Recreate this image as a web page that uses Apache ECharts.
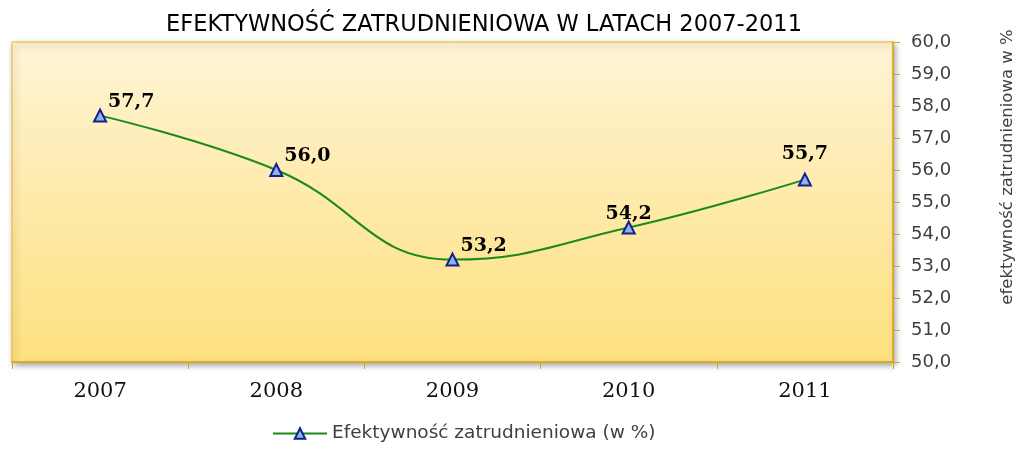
<!DOCTYPE html>
<html>
<head>
<meta charset="utf-8">
<script src="https://cdn.jsdelivr.net/npm/echarts@6/dist/echarts.min.js"></script>
<style>
html, body { margin: 0; padding: 0; background: #fff; }
#main { width: 1018px; height: 451px; }
</style>
</head>
<body>
<div id="main"></div>
<script>
const years = ['2007', '2008', '2009', '2010', '2011'];
const values = [57.7, 56.0, 53.2, 54.2, 55.7];
const labelPos = ['right', 'right', 'right', 'top', 'top'];

const fmt = (v) => v.toFixed(1).replace('.', ',');

const chart = echarts.init(document.getElementById('main'));

const option = {
  animation: false,
  backgroundColor: '#fff',
  title: {
    text: 'EFEKTYWNOŚĆ ZATRUDNIENIOWA W LATACH 2007-2011',
    left: 479,
    textAlign: 'center',
    top: 9,
    textStyle: {
      fontFamily: 'DejaVu Sans',
      fontSize: 22.5,
      fontWeight: 'normal',
      color: '#000',
    },
  },
  legend: {
    bottom: 3,
    left: 267,
    itemWidth: 54,
    itemHeight: 13,
    itemGap: 4,
    textStyle: {
      fontFamily: 'DejaVu Sans',
      fontSize: 18.5,
      color: '#404040',
    },
    data: ['Efektywność zatrudnieniowa (w %)'],
  },
  grid: {
    left: 12,
    right: 125,
    top: 42,
    bottom: 89,
    outerBoundsMode: 'none',
    show: true,
    borderColor: '#F0B020',
    borderWidth: 1,
    backgroundColor: new echarts.graphic.LinearGradient(0, 0, 0, 1, [
      { offset: 0, color: '#FFF4D6' },
      { offset: 1, color: '#FDE07E' },
    ]),
    shadowColor: 'rgba(0,0,0,0.35)',
    shadowBlur: 6,
    shadowOffsetX: 2,
    shadowOffsetY: 3,
  },
  xAxis: {
    type: 'category',
    data: years,
    boundaryGap: true,
    axisLine: { lineStyle: { color: '#D9A21A', width: 1.5 } },
    axisTick: { show: true, length: 7, lineStyle: { color: '#D9A21A' } },
    axisLabel: {
      margin: 19,
      fontFamily: 'DejaVu Serif',
      fontSize: 21,
      color: '#111',
    },
    splitLine: { show: false },
  },
  yAxis: {
    type: 'value',
    position: 'right',
    min: 50,
    max: 60,
    interval: 1,
    axisLine: { show: true, lineStyle: { color: '#D9A21A', width: 1.5 } },
    axisTick: { show: true, length: 7, lineStyle: { color: '#D9A21A' } },
    axisLabel: {
      margin: 18,
      fontFamily: 'DejaVu Sans',
      fontSize: 18,
      color: '#404040',
      formatter: (v) => fmt(v),
    },
    splitLine: { show: false },
    name: 'efektywność zatrudnieniowa w %',
    nameLocation: 'middle',
    nameGap: 106,
    nameRotate: 90,
    nameTextStyle: {
      fontFamily: 'DejaVu Sans',
      fontSize: 16.5,
      color: '#404040',
      padding: [0, 0, 0, 70],
    },
  },
  series: [
    {
      name: 'Efektywność zatrudnieniowa (w %)',
      type: 'line',
      smooth: 0.45,
      symbol: 'triangle',
      symbolSize: 12,
      itemStyle: {
        color: '#8DB4E2',
        borderColor: '#12208E',
        borderWidth: 2,
      },
      lineStyle: { color: '#1A8A1A', width: 2 },
      label: {
        show: true,
        fontFamily: 'DejaVu Serif',
        fontSize: 19,
        fontWeight: 'bold',
        color: '#000',
        formatter: (p) => fmt(p.value),
      },
      data: values.map((v, i) => {
        let label;
        if (labelPos[i] === 'right') {
          label = { position: 'right', offset: [-4, -14] };
        } else if (i === 3) {
          label = { position: 'top', offset: [0, 8] };
        } else {
          label = { position: 'top', offset: [0, -4] };
        }
        return { value: v, label: label };
      }),
    },
  ],
};

chart.setOption(option);
</script>
</body>
</html>
